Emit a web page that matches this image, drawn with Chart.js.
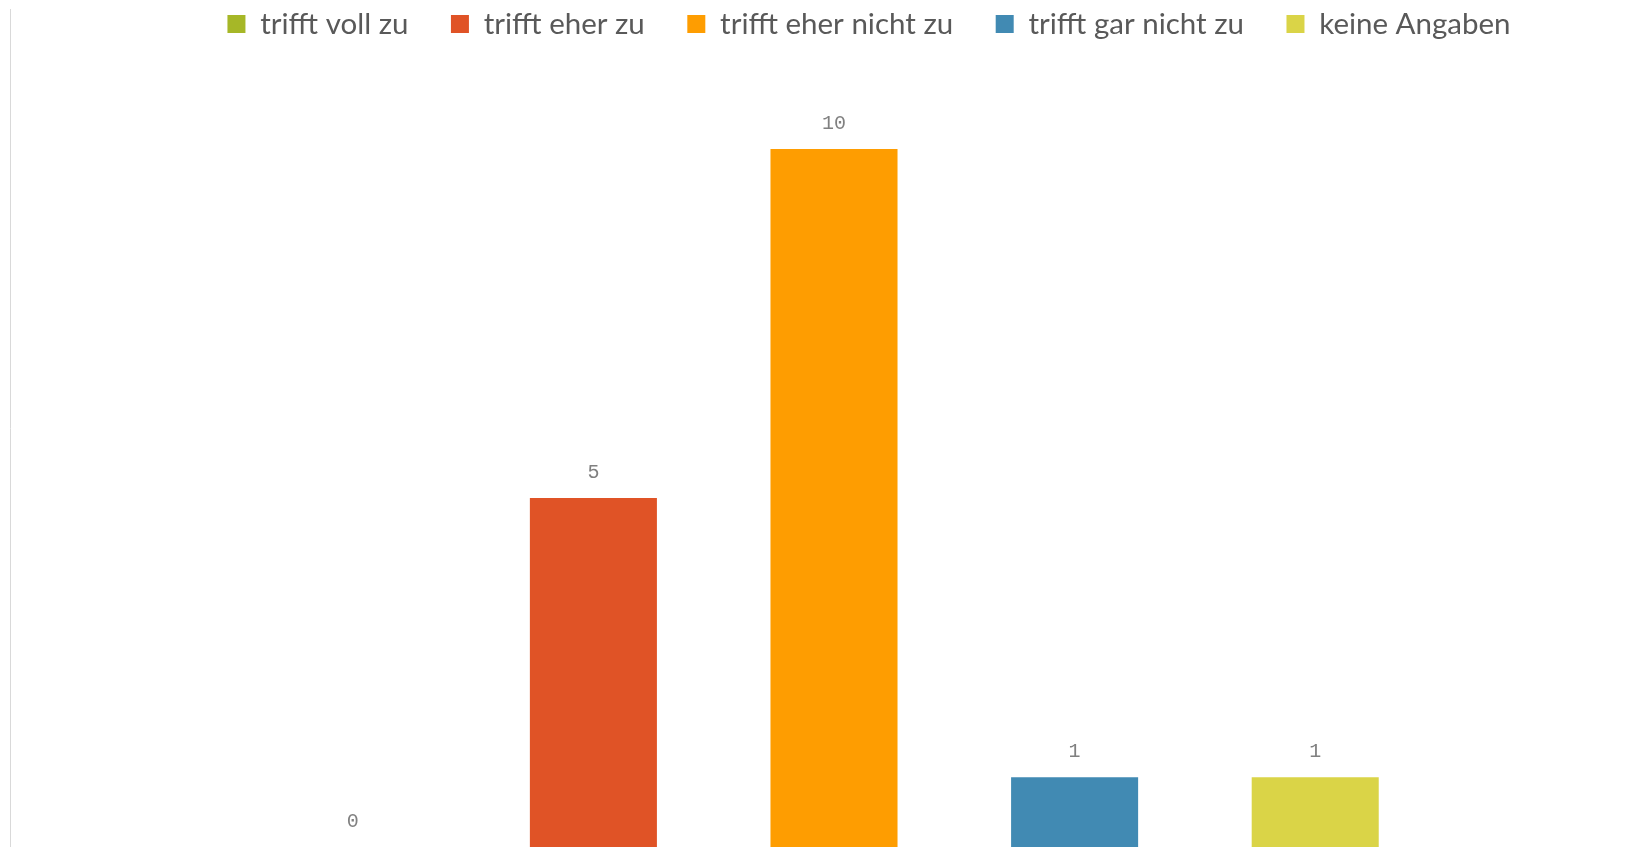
<!DOCTYPE html>
<html>
<head>
<meta charset="utf-8">
<script src="https://cdn.jsdelivr.net/npm/chart.js@4.4.0/dist/chart.umd.min.js"></script>
<style>
  html, body { margin: 0; padding: 0; background: #fff; overflow: hidden; }
  #outer { width: 1637px; height: 847px; overflow: hidden; }
  #wrap { width: 1658px; height: 847px; }
</style>
</head>
<body>
<div id="outer"><div id="wrap"><canvas id="chart"></canvas></div></div>
<script>
var categories = [''];
var seriesNames = ['trifft voll zu', 'trifft eher zu', 'trifft eher nicht zu', 'trifft gar nicht zu', 'keine Angaben'];
var seriesValues = [0, 5, 10, 1, 1];
var seriesColors = ['#a6b727', '#e05326', '#fe9d01', '#418ab3', '#dad447'];

// draws the value above each bar, using the bar elements from the chart
var valueLabels = {
  id: 'valueLabels',
  afterDatasetsDraw: function(chart) {
    var ctx = chart.ctx;
    ctx.save();
    ctx.font = '20px "Liberation Mono"';
    ctx.fillStyle = '#808080';
    ctx.textAlign = 'center';
    ctx.textBaseline = 'middle';
    chart.data.datasets.forEach(function(ds, i) {
      var meta = chart.getDatasetMeta(i);
      meta.data.forEach(function(bar, j) {
        ctx.fillText(String(ds.data[j]), bar.x, bar.y - 25);
      });
    });
    ctx.restore();
  }
};

// legend sits over the top of the plot area, like in the original
var legendOverlay = {
  id: 'legendOverlay',
  beforeLayout: function(chart) {
    var lg = chart.legend;
    if (lg && !lg._overlay) {
      var fit = lg.fit;
      lg.fit = function() {
        fit.call(this);
        this.height = 42.5;
      };
      lg._overlay = true;
    }
  },
  afterLayout: function(chart) {
    // widen the legend's clip box again once the plot area is fixed
    var lg = chart.legend;
    if (lg) {
      lg.left += 70;
      lg.bottom = lg.top + 130;
      lg.height = 130;
    }
  }
};

var datasets = seriesNames.map(function(name, i) {
  return {
    label: name,
    data: [seriesValues[i]],
    backgroundColor: seriesColors[i],
    borderWidth: 0
  };
});

var chart = new Chart(document.getElementById('chart'), {
  type: 'bar',
  data: { labels: categories, datasets: datasets },
  options: {
    responsive: true,
    maintainAspectRatio: false,
    animation: false,
    categoryPercentage: 0.730,
    barPercentage: 0.528,
    layout: { padding: { left: 10, top: -33.25, right: 0, bottom: 0 } },
    plugins: {
      legend: {
        position: 'top',
        align: 'center',
        labels: {
          boxWidth: 18,
          boxHeight: 18,
          padding: 42.5,
          color: '#595959',
          font: { family: 'Lato', size: 29.5 }
        }
      },
      tooltip: { enabled: false }
    },
    scales: {
      x: { display: false },
      y: {
        min: 0,
        max: 12,
        ticks: { display: false },
        grid: { display: false, drawTicks: false },
        border: { display: true, color: '#d9d9d9', width: 1 }
      }
    }
  },
  plugins: [valueLabels, legendOverlay]
});
</script>
</body>
</html>
